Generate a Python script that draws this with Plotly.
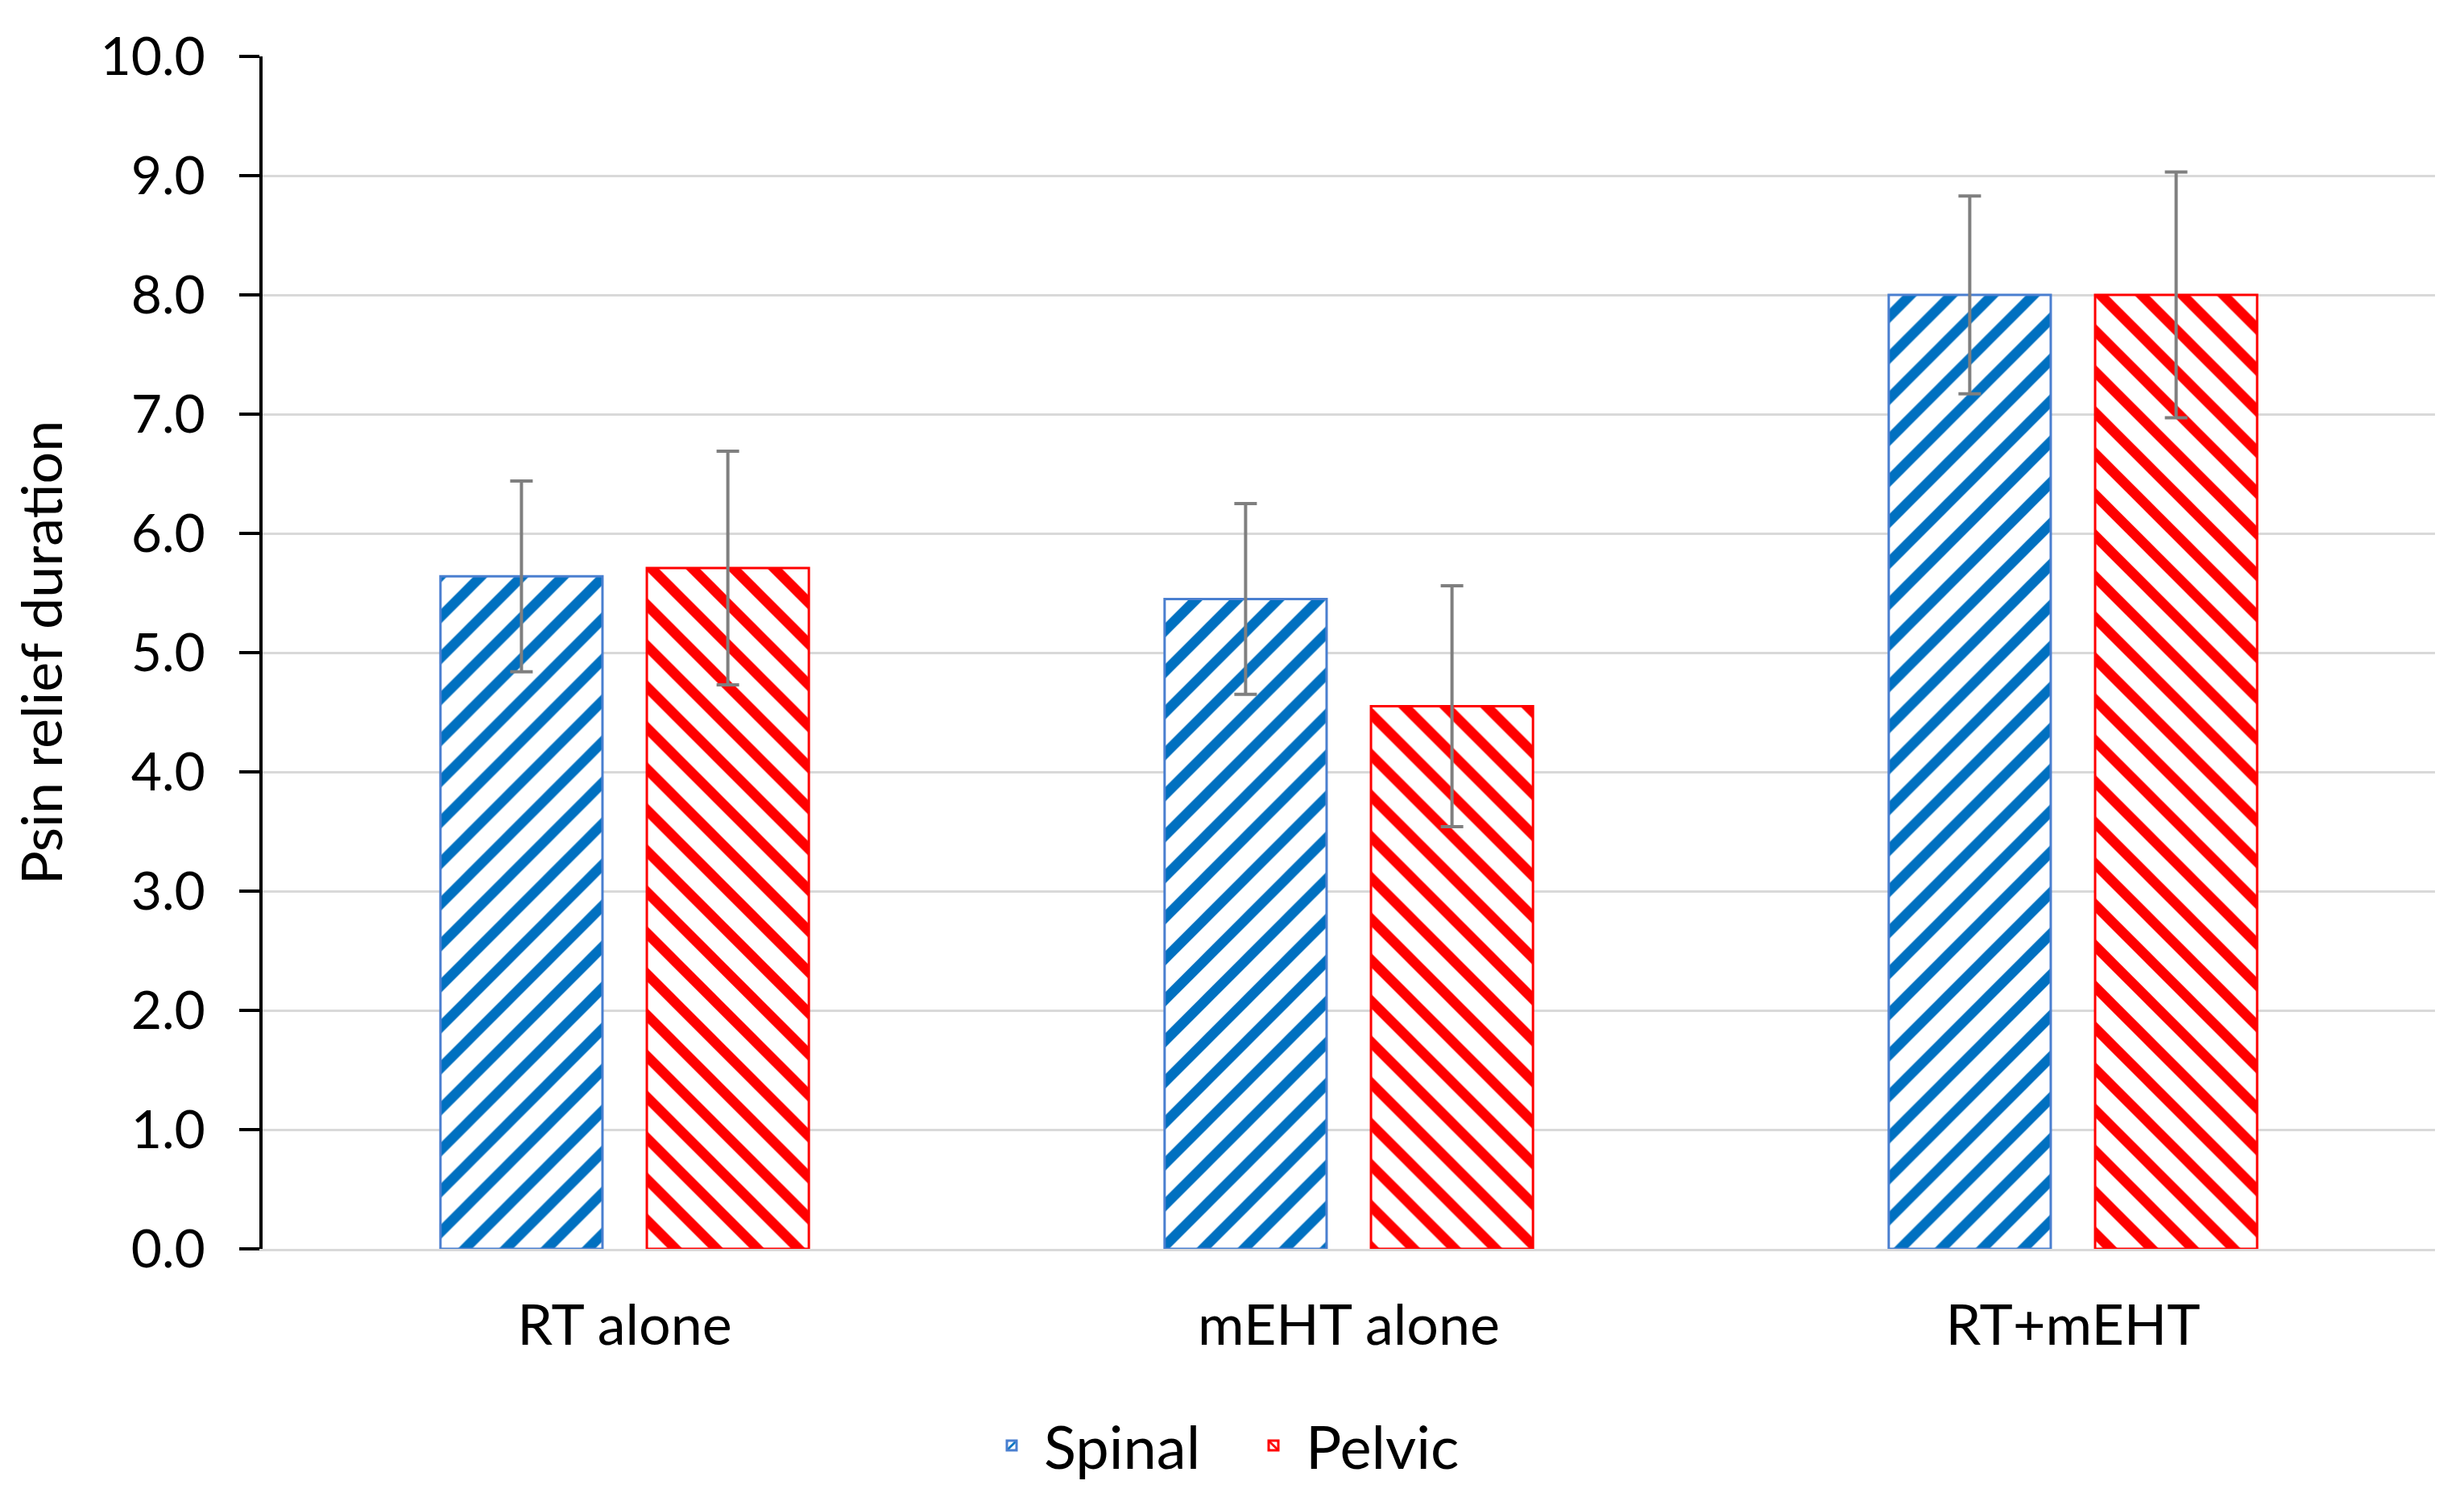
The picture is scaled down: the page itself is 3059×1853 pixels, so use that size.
import plotly.graph_objects as go

categories = ["RT alone", "mEHT alone", "RT+mEHT"]
spinal_values = [5.64, 5.45, 8.00]
spinal_err = [0.80, 0.80, 0.83]
pelvic_values = [5.71, 4.55, 8.00]
pelvic_err = [0.98, 1.01, 1.03]
y_ticks = [0, 1, 2, 3, 4, 5, 6, 7, 8, 9, 10]
y_tick_labels = ["0.0", "1.0", "2.0", "3.0", "4.0", "5.0", "6.0", "7.0", "8.0", "9.0", "10.0"]

BLUE = "#0070C0"
RED = "#FF0000"
ERR = "#7F7F7F"
FONT = "Lato"

fig = go.Figure()
fig.add_trace(go.Bar(
    name="Spinal", x=categories, y=spinal_values,
    marker=dict(color=BLUE,
                line=dict(color="#4A7FD0", width=3),
                pattern=dict(shape="/", fgcolor=BLUE, bgcolor="white",
                             size=36, solidity=0.35, fillmode="replace")),
    error_y=dict(type="data", array=spinal_err, visible=True,
                 color=ERR, thickness=4, width=14),
))
fig.add_trace(go.Bar(
    name="Pelvic", x=categories, y=pelvic_values,
    marker=dict(color=RED,
                line=dict(color=RED, width=3),
                pattern=dict(shape="\\", fgcolor=RED, bgcolor="white",
                             size=36, solidity=0.35, fillmode="replace")),
    error_y=dict(type="data", array=pelvic_err, visible=True,
                 color=ERR, thickness=4, width=14),
))

fig.update_layout(
    width=3059, height=1853,
    paper_bgcolor="white", plot_bgcolor="white",
    barmode="group", bargap=0.43, bargroupgap=0.215,
    margin=dict(l=318, r=44, t=62, b=311),
    font=dict(family=FONT, color="#000000"),
    legend=dict(orientation="h", x=0.33, xanchor="left", y=-0.128, yanchor="top",
                font=dict(family=FONT, size=74, color="#000000"),
                itemwidth=70, entrywidth=240, entrywidthmode="pixels",
                traceorder="normal"),
    showlegend=True,
)
fig.update_yaxes(
    range=[0, 10], tickvals=y_ticks, ticktext=y_tick_labels,
    showgrid=True, gridcolor="#D9D9D9", gridwidth=3,
    showline=True, linecolor="#000000", linewidth=4,
    ticks="outside", ticklen=25, tickwidth=4, tickcolor="#000000",
    tickfont=dict(family=FONT, size=66, color="#000000"),
    ticklabelstandoff=29,
    title=dict(text="Psin relief duration", font=dict(family=FONT, size=70, color="#000000"),
               standoff=34),
    zeroline=False,
)
fig.update_xaxes(
    showline=True, linecolor="#D9D9D9", linewidth=3,
    ticks="", tickfont=dict(family=FONT, size=70, color="#000000"),
    ticklabelstandoff=32,
)

fig.write_html("out.html")
